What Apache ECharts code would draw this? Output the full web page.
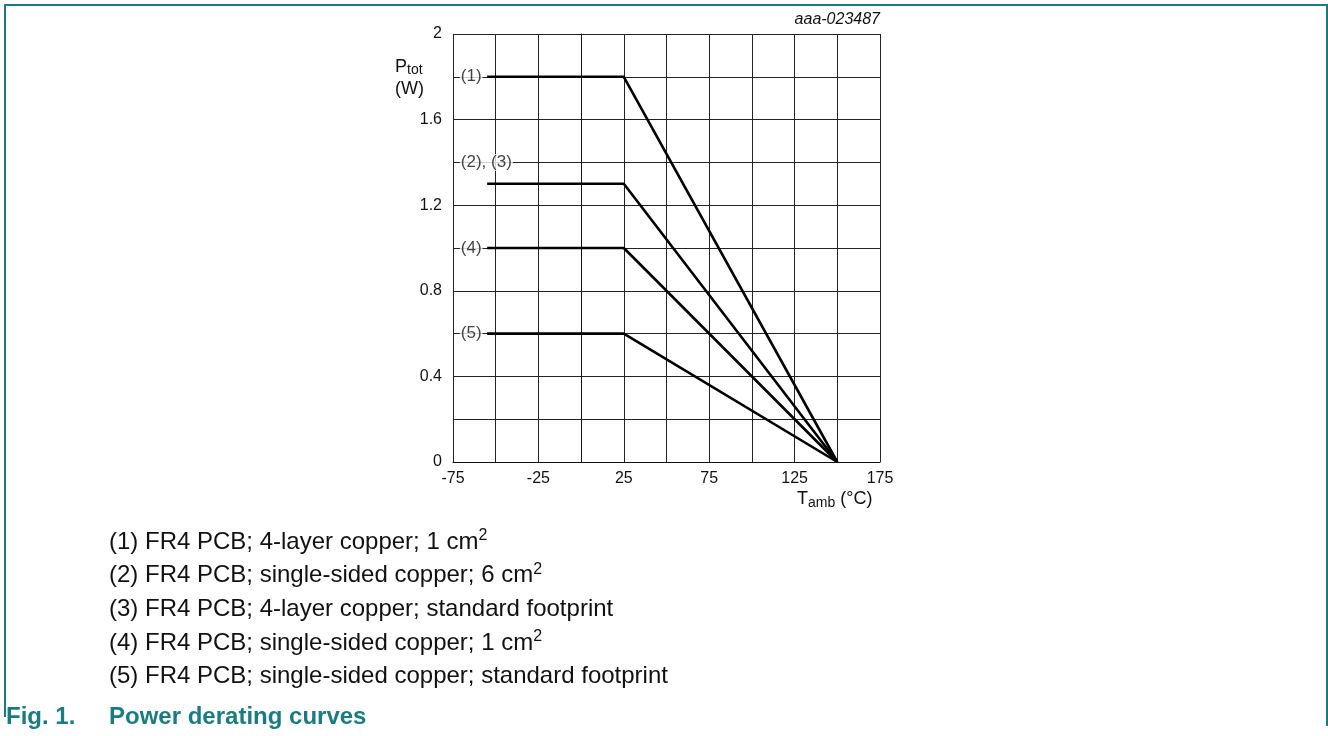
<!DOCTYPE html>
<html>
<head>
<meta charset="utf-8">
<script src="https://cdn.jsdelivr.net/npm/echarts@6/dist/echarts.min.js"></script>
<style>
  html, body { margin: 0; padding: 0; background: #fff; }
  #chart { width: 1328px; height: 736px; }
</style>
</head>
<body>
<div id="chart"></div>
<script>
// derating curves: temperature points and power values
var tempPts = [-55, 25, 150];
var curve1 = [1.8, 1.8, 0];
var curve23 = [1.3, 1.3, 0];
var curve4 = [1.0, 1.0, 0];
var curve5 = [0.6, 0.6, 0];

// curve tags on the left of the plot
var tagText = ["(1)", "(2), (3)", "(4)", "(5)"];
var tagY = [1.8, 1.4, 1.0, 0.6];
var tagX = -71;

var notes = [
  "(1) FR4 PCB; 4-layer copper; 1 cm{sup|2}",
  "(2) FR4 PCB; single-sided copper; 6 cm{sup|2}",
  "(3) FR4 PCB; 4-layer copper; standard footprint",
  "(4) FR4 PCB; single-sided copper; 1 cm{sup|2}",
  "(5) FR4 PCB; single-sided copper; standard footprint"
];

var teal = "#1b7b83";
var font = "Liberation Sans, Arial, sans-serif";

function pairs(ys) {
  return tempPts.map(function (t, i) { return [t, ys[i]]; });
}

var chart = echarts.init(document.getElementById("chart"));

var lineSeries = [curve1, curve23, curve4, curve5].map(function (ys) {
  return {
    type: "line",
    data: pairs(ys),
    symbol: "none",
    lineStyle: { color: "#000", width: 2.6 },
    z: 5
  };
});

var tagSeries = {
  type: "scatter",
  symbolSize: 0,
  data: tagText.map(function (t, i) { return [tagX, tagY[i], t]; }),
  label: {
    show: true,
    position: "right",
    distance: 0,
    formatter: function (p) { return p.data[2]; },
    color: "#111",
    fontSize: 17,
    fontFamily: font,
    backgroundColor: "#fff",
    padding: [0, 1]
  },
  z: 6
};

var graphics = [
  {
    type: "polyline",
    shape: { points: [[5, 717], [5, 5], [1327, 5], [1327, 726]] },
    style: { stroke: teal, lineWidth: 2, fill: null }
  },
  {
    type: "text", x: 395, y: 56,
    style: {
      text: "P{sub|tot}\n(W)",
      font: "18px " + font, fill: "#111", lineHeight: 22,
      rich: { sub: { fontSize: 14, padding: [7, 0, 0, 0] } }
    }
  },
  {
    type: "text", x: 880, y: 20,
    style: {
      text: "aaa-023487", font: "italic 16px " + font, fill: "#111",
      align: "right", verticalAlign: "middle"
    }
  },
  {
    type: "text", x: 797, y: 499,
    style: {
      text: "T{sub|amb} (°C)",
      font: "18px " + font, fill: "#111", verticalAlign: "middle",
      rich: { sub: { fontSize: 14, padding: [9, 0, 0, 0] } }
    }
  },
  {
    type: "text", x: 6, y: 717,
    style: { text: "Fig. 1.", font: "bold 24px " + font, fill: teal, verticalAlign: "middle" }
  },
  {
    type: "text", x: 109, y: 717,
    style: { text: "Power derating curves", font: "bold 24px " + font, fill: teal, verticalAlign: "middle" }
  }
];

notes.forEach(function (s, i) {
  graphics.push({
    type: "text", x: 109, y: 542 + i * 33.7,
    style: {
      text: s, font: "24px " + font, fill: "#111", verticalAlign: "middle",
      rich: { sup: { fontSize: 16, padding: [0, 0, 13, 0] } }
    }
  });
});

var option = {
  animation: false,
  grid: { left: 453, top: 34, width: 427, height: 428 },
  xAxis: {
    type: "value",
    min: -75, max: 175, interval: 25,
    axisLine: { lineStyle: { color: "#111", width: 1 } },
    axisTick: { show: false },
    splitLine: { show: true, lineStyle: { color: "#222", width: 1 } },
    axisLabel: {
      margin: 9, color: "#111", fontSize: 16, fontFamily: font,
      formatter: function (v) { return (v + 75) % 50 === 0 ? String(v) : ""; }
    }
  },
  yAxis: {
    type: "value",
    min: 0, max: 2, interval: 0.2,
    axisLine: { show: true, lineStyle: { color: "#111", width: 1 } },
    axisTick: { show: false },
    splitLine: { show: true, lineStyle: { color: "#222", width: 1 } },
    axisLabel: {
      margin: 11, color: "#111", fontSize: 16, fontFamily: font,
      formatter: function (v) {
        var k = Math.round(v * 10);
        return k % 4 === 0 ? String(k / 10) : "";
      }
    }
  },
  graphic: graphics,
  series: lineSeries.concat([tagSeries])
};

chart.setOption(option);
</script>
</body>
</html>
